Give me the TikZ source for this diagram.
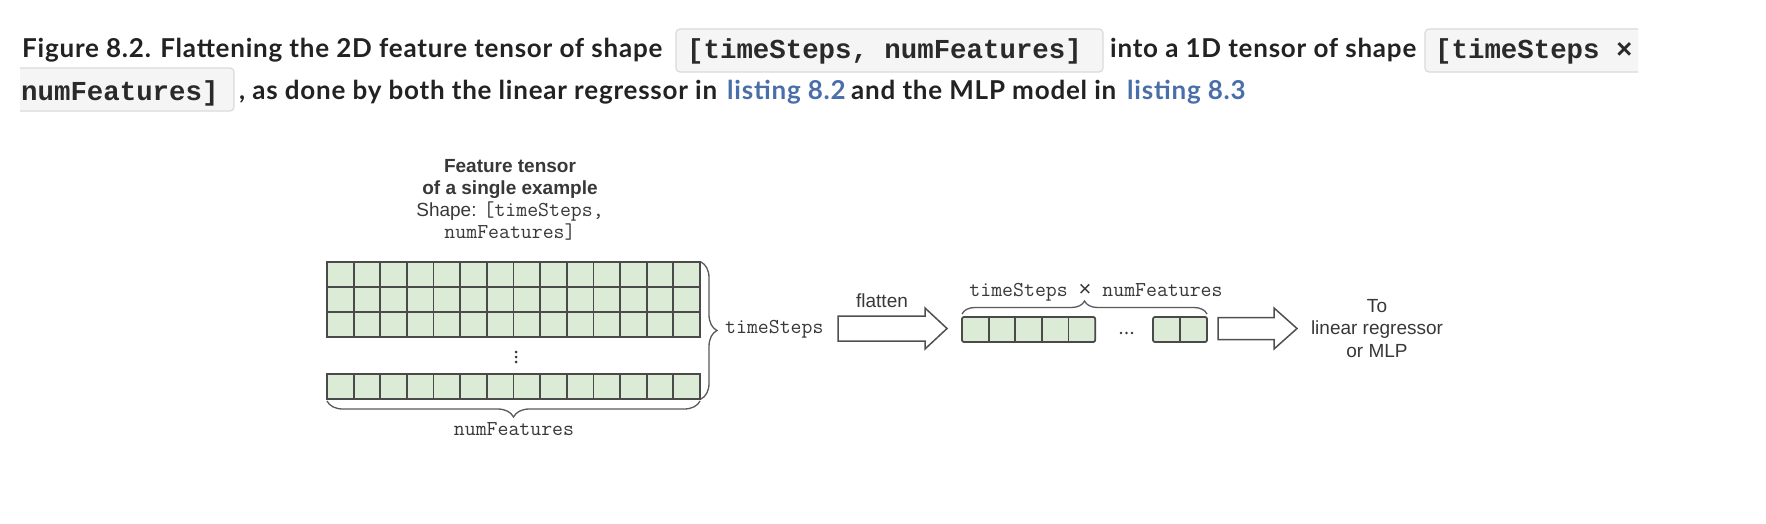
\documentclass[tikz,border=0pt]{standalone}
\usepackage{fontspec}
\setmainfont{Liberation Sans}
\newfontfamily\capfont{Lato}[LetterSpace=3.0]
\newfontfamily\capmono{Liberation Mono}
\newfontfamily\dsans{Liberation Sans}
\newcommand{\dmonofont}{\ttfamily\fontsize{21.2}{22}\selectfont}
\usetikzlibrary{decorations.pathreplacing,calc}
\definecolor{captxt}{HTML}{222222}
\definecolor{linkblue}{HTML}{4A6EA9}
\definecolor{codebg}{HTML}{F5F5F5}
\definecolor{codeborder}{HTML}{DADADA}
\definecolor{codetxt}{HTML}{2A2A2A}
\definecolor{cellfill}{HTML}{DCEBD6}
\definecolor{cellline}{HTML}{4A4A4A}
\definecolor{dtext}{HTML}{383838}
\definecolor{braceclr}{HTML}{5A5A5A}
\definecolor{arrowclr}{HTML}{505050}
\tikzset{
  captext/.style={anchor=base west, inner sep=0pt, text=captxt, font=\capfont\bfseries\fontsize{26}{30}\selectfont},
  linktext/.style={captext, text=linkblue},
  codetext/.style={anchor=base west, inner sep=0pt, text=codetxt, font=\capmono\bfseries\fontsize{27.4}{30}\selectfont},
  codebox/.style={fill=codebg, draw=codeborder, line width=1.2pt, rounded corners=4pt},
  cellblk/.style={draw=cellline, fill=cellfill, line width=1.8pt, inner sep=0pt, outer sep=0pt, anchor=north west},
  gridln/.style={draw=cellline, line width=1.8pt},
  lbl/.style={inner sep=0pt, anchor=base, text=dtext, font=\fontsize{19}{22}\selectfont},
  lblb/.style={lbl, font=\bfseries\fontsize{19}{22}\selectfont},
  monolbl/.style={lbl, font=\dmonofont},
  bracestyle/.style={draw=braceclr, line width=1.3pt, decorate, decoration={brace, amplitude=#1}},
  blockarrow/.style={draw=arrowclr, fill=white, line width=1.5pt, line join=miter},
  dotmark/.style={fill=dtext, draw=none}
}
\begin{document}
\begin{tikzpicture}[x=1pt,y=-1pt]
\fill[white] (0,0) rectangle (1766,524);
\useasboundingbox (0,0) rectangle (1766,524);

% ---------- caption ----------
\draw[codebox] (676,29) rectangle (1103,72);
\begin{scope}
  \clip (1400,0) rectangle (1638,524);
  \draw[codebox] (1425,29) rectangle (1660,72);
\end{scope}
\begin{scope}
  \clip (20,0) rectangle (300,524);
  \draw[codebox] (5,68) rectangle (234,111);
\end{scope}
\node[captext] (cap1) at (22,58) {Figure 8.2. Flattening the 2D feature tensor of shape};
\node[codetext] (code1) at (687,59) {[timeSteps, numFeatures]};
\node[captext] (cap2) at (1110,58) {into a 1D tensor of shape};
\node[codetext] (code2) at (1435,59) {[timeSteps ×};
\node[codetext] (code3) at (21,101) {numFeatures]};
\node[captext] (cap3) at (239,100) {, as done by both the linear regressor in};
\node[linktext] (link1) at (727,100) {listing 8.2};
\node[captext] (cap4) at (851,100) {and the MLP model in};
\node[linktext] (link2) at (1127,100) {listing 8.3};

% ---------- title of the tensor ----------
\node[lblb] (t1) at (510,172) {Feature tensor};
\node[lblb] (t2) at (510,194) {of a single example};
\node[lbl] (t3) at (510,216) {Shape: {\dmonofont [timeSteps,}};
\node[monolbl] (t4) at (510,238) {numFeatures]};

% ---------- 2D grid ----------
\node[cellblk, minimum width=373pt, minimum height=75pt] (topgrid) at (327,262) {};
\foreach \i in {1,...,13} \draw[gridln] (327+\i*26.643,262) -- (327+\i*26.643,337);
\foreach \j in {1,2} \draw[gridln] (327,262+\j*25) -- (700,262+\j*25);
\node[cellblk, minimum width=373pt, minimum height=25pt] (botrow) at (327,374) {};
\foreach \i in {1,...,13} \draw[gridln] (327+\i*26.643,374) -- (327+\i*26.643,399);
\foreach \k in {0,1,2} \fill[dotmark] (516,352+\k*5) circle (1.5);

% braces
\draw[bracestyle=16] ($(topgrid.north east)+(1,0)$) -- ($(botrow.south east)+(1,0)$);
\draw[bracestyle=16] ($(botrow.south east)+(0,2)$) -- ($(botrow.south west)+(0,2)$);
\node[monolbl, anchor=base west] (tslbl) at (725,333) {timeSteps};
\node[monolbl] (nflbl) at (514,435) {numFeatures};

% ---------- flatten arrow ----------
\coordinate (fatail) at (838,328.5);
\coordinate (fatip) at (947,328.5);
\draw[blockarrow] ($(fatail)+(0,-12.5)$) -- ($(fatip)+(-22,-12.5)$) -- ($(fatip)+(-22,-20.5)$) -- (fatip)
  -- ($(fatip)+(-22,20.5)$) -- ($(fatip)+(-22,12.5)$) -- ($(fatail)+(0,12.5)$) -- cycle;
\node[lbl] (flatlbl) at (882,307) {flatten};

% ---------- 1D row ----------
\node[cellblk, rounded corners=2pt, minimum width=133.2pt, minimum height=25pt] (flatA) at (962,317) {};
\foreach \i in {1,...,4} \draw[gridln] (962+\i*26.64,317) -- (962+\i*26.64,342);
\node[cellblk, rounded corners=2pt, minimum width=54pt, minimum height=25pt] (flatB) at (1153,317) {};
\draw[gridln] (1180,317) -- (1180,342);
\foreach \k in {0,1,2} \fill[dotmark] (1121+\k*5.5,333) circle (1.3);
\draw[bracestyle=13] ($(flatA.north west)+(0,-3)$) -- ($(flatB.north east)+(0,-3)$);
\node[monolbl] (prodlbl) at (1096,296) {timeSteps {\dsans\fontsize{22}{22}\selectfont ×} numFeatures};

% ---------- output arrow ----------
\coordinate (oatail) at (1218,328.5);
\coordinate (oatip) at (1297,328.5);
\draw[blockarrow] ($(oatail)+(0,-11)$) -- ($(oatip)+(-23,-11)$) -- ($(oatip)+(-23,-20.5)$) -- (oatip)
  -- ($(oatip)+(-23,20.5)$) -- ($(oatip)+(-23,11)$) -- ($(oatail)+(0,11)$) -- cycle;
\node[lbl] (o1) at (1377,312) {To};
\node[lbl] (o2) at (1377,334) {linear regressor};
\node[lbl] (o3) at (1377,357) {or MLP};
\end{tikzpicture}
\end{document}
